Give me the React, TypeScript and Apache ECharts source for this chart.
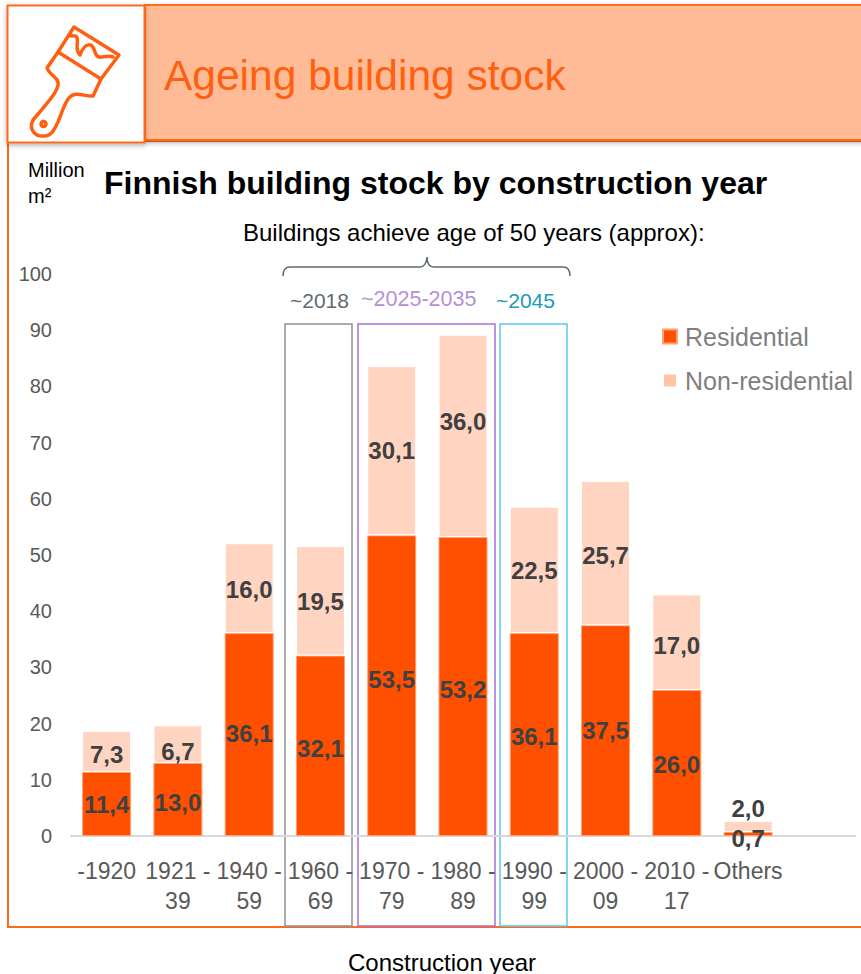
import React, { useEffect, useRef } from "react";
import * as echarts from "echarts";

const categories = ["-1920", "1921 -\n39", "1940 -\n59", "1960 -\n69", "1970 -\n79", "1980 -\n89", "1990 -\n99", "2000 -\n09", "2010 -\n17", "Others", ""];
const residential = [11.4, 13.0, 36.1, 32.1, 53.5, 53.2, 36.1, 37.5, 26.0, 0.7, null];
const nonResidential = [7.3, 6.7, 16.0, 19.5, 30.1, 36.0, 22.5, 25.7, 17.0, 2.0, null];
const yTicks = { min: 0, max: 100, interval: 10 };

// label nudges, in pixels, as placed in the reference
const residentialLabelNudge = [1, 3, -1, 3, -6, 3, 2, 0, 2, 4, 0];
const nonResidentialLabelNudge = [3, 7, 1, 1, 0, -14, 1, 2, 3, 0, 0];

const ORANGE = "#FF5000";
const SANS = '"Liberation Sans", Arial, sans-serif';

const brushD =
  "M74 27 L119 55 L101 79 L58 52 Z " +
  "M71 36 C84 34 72 48 80 55 C85 42 92 42 95 52 C98 62 104 54 113 57 " +
  "M58 52 L47 68 C50 76 60 78 58 85 C57 92 50 100 33 120 C28 130 36 137 44 136 C52 136 55 128 58 122 C62 112 65 102 69 98 C75 90 85 97 93 96 L101 79 " +
  "M41 124 A2.5 2.5 0 1 0 46 124 A2.5 2.5 0 1 0 41 124 Z";
const bracketD = "M283 276 Q283 267 290 267 L420 267 Q426 267 427 257 Q427 267 434 267 L563 267 Q570 267 570 276";

const fmt = (p: any) => (p.value == null ? "" : Number(p.value).toFixed(1).replace(".", ","));

export default function App() {
  const ref = useRef<HTMLDivElement>(null);
  useEffect(() => {
    echarts.graphic.registerShape("brushIcon", echarts.graphic.extendPath(brushD, {}) as any);
    echarts.graphic.registerShape("bracketShape", echarts.graphic.extendPath(bracketD, {}) as any);
    const chart = echarts.init(ref.current!, undefined, { renderer: "svg" });
    const label = { show: true, formatter: fmt, fontFamily: SANS, fontWeight: "bold" as const, fontSize: 24, color: "#404040" };
    const txt = (x: number, y: number, text: string, fontSize: number, fill: string, extra: any = {}) => ({
      type: "text", x, y, style: { text, fontSize, fill, fontFamily: SANS, textVerticalAlign: "middle", ...extra },
    });
    const box = (x: number, width: number, stroke: string) => ({
      type: "rect", shape: { x, y: 324, width, height: 602 }, style: { fill: "none", stroke, lineWidth: 1.5 },
    });
    chart.setOption({
      animation: false,
      backgroundColor: "#fff",
      grid: { left: 71, right: 6, top: 274, height: 562, containLabel: false },
      legend: {
        orient: "vertical", left: 657, top: 319, itemWidth: 14, itemHeight: 14, itemGap: 19, icon: "rect",
        textStyle: { fontFamily: SANS, fontSize: 25, color: "#7f7f7f", padding: [0, 0, 0, 3] },
        data: [
          { name: "Residential", itemStyle: { color: ORANGE } },
          { name: "Non-residential", itemStyle: { color: "#FFC3A6" } },
        ],
      },
      xAxis: {
        type: "category", data: categories,
        axisTick: { show: false },
        axisLine: { lineStyle: { color: "#D9D9D9", width: 2 } },
        axisLabel: { interval: 0, fontFamily: SANS, fontSize: 23, color: "#595959", lineHeight: 30, margin: 20 },
      },
      yAxis: {
        type: "value", ...yTicks,
        axisLine: { show: false }, axisTick: { show: false }, splitLine: { show: false },
        axisLabel: { fontFamily: SANS, fontSize: 20, color: "#595959", margin: 19 },
      },
      series: [
        {
          name: "Residential", type: "bar", stack: "a", barWidth: 49, barCategoryGap: 0,
          itemStyle: { color: ORANGE, borderColor: "#FF9F73", borderWidth: 1 },
          data: residential.map((v, i) => ({ value: v, label: { offset: [0, residentialLabelNudge[i]] } })),
          label: { ...label, position: "inside" },
        },
        {
          name: "Non-residential", type: "bar", stack: "a", barWidth: 49,
          itemStyle: { color: "#FFD5C2", borderColor: "#FFF", borderWidth: 1 },
          data: nonResidential.map((v, i) =>
            i === 9
              ? { value: v, label: { position: "top", distance: 0 } }
              : { value: v, label: { offset: [0, nonResidentialLabelNudge[i]] } }
          ),
          label: { ...label, position: "inside" },
        },
      ],
      graphic: {
        elements: [
          { type: "rect", z: 0, shape: { x: 8, y: 141, width: 900, height: 786 }, style: { fill: "none", stroke: "#FF6A1A", lineWidth: 2 } },
          { type: "rect", z: 1, shape: { x: 145, y: 5, width: 760, height: 135 }, style: { fill: "#FFBB96", stroke: "#FF6A1A", lineWidth: 2, shadowBlur: 5, shadowColor: "rgba(0,0,0,0.3)", shadowOffsetY: 2 } },
          { type: "rect", z: 2, shape: { x: 7.5, y: 5.5, width: 137, height: 137 }, style: { fill: "#fff", stroke: "#FF6A1A", lineWidth: 2, shadowBlur: 5, shadowColor: "rgba(0,0,0,0.3)", shadowOffsetY: 2 } },
          { type: "brushIcon", z: 3, style: { fill: "none", stroke: "#FF5F0F", lineWidth: 3.5, lineJoin: "round", lineCap: "round" } },
          { ...txt(164, 75, "Ageing building stock", 42.5, "#FF5F0F"), z: 3 },
          txt(28, 170, "Million", 20, "#000"),
          txt(28, 196, "m²", 20, "#000"),
          txt(104, 183, "Finnish building stock by construction year", 32, "#000", { fontWeight: "bold" }),
          txt(243, 232, "Buildings achieve age of 50 years (approx):", 24, "#000"),
          { type: "bracketShape", style: { fill: "none", stroke: "#5F6B72", lineWidth: 1.5 } },
          txt(290, 300, "~2018", 21, "#5F6B72"),
          txt(361, 299, "~2025-2035", 21.5, "#B590D8"),
          txt(496, 300, "~2045", 21, "#1A9BB8"),
          box(285, 67, "#8A9299"),
          box(358, 137, "#A970D8"),
          box(500, 67, "#5CC8F0"),
          txt(348, 962, "Construction year", 24, "#000"),
        ],
      },
    });
    return () => chart.dispose();
  }, []);
  return <div ref={ref} style={{ position: "absolute", left: 0, top: 0, width: 861, height: 974 }} />;
}
